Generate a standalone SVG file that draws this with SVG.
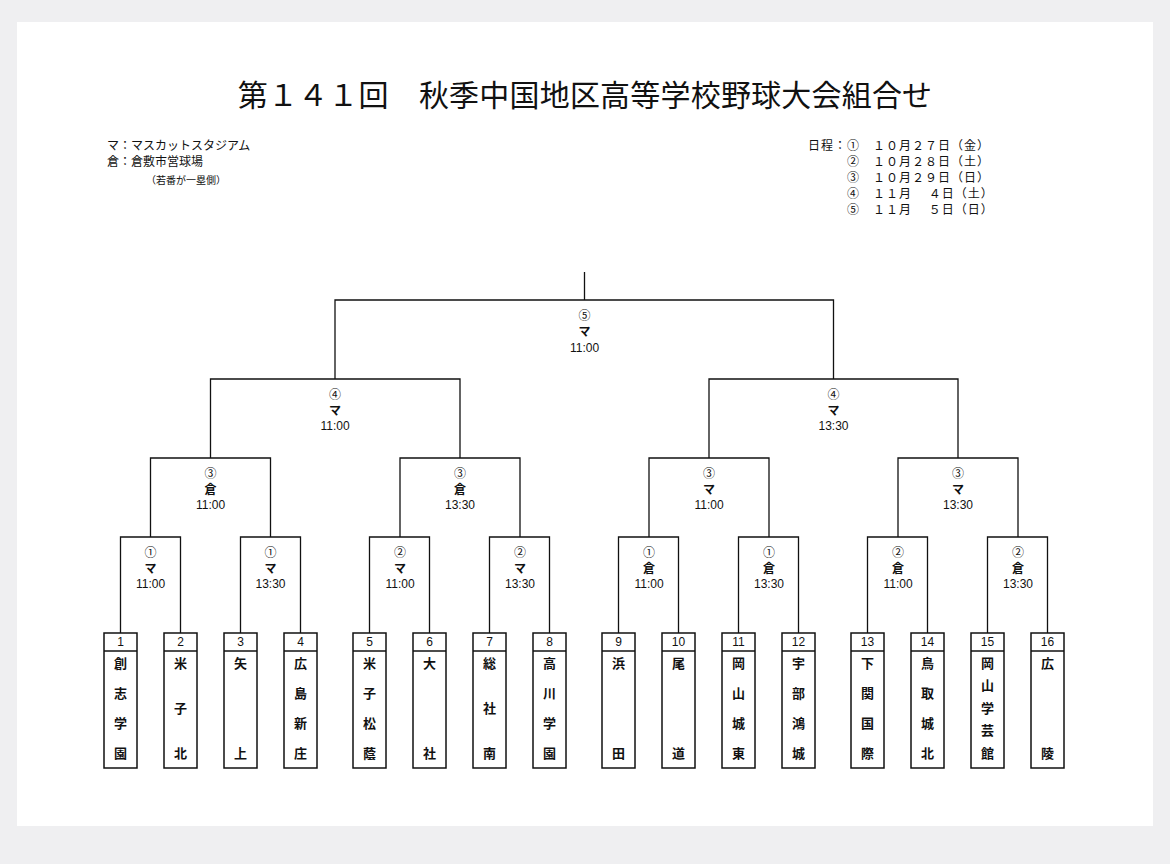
<svg xmlns="http://www.w3.org/2000/svg" width="1170" height="864" viewBox="0 0 1170 864">
<style>
.t{font-family:"Noto Sans CJK JP","Liberation Serif",serif;fill:#111}
.s{font-family:"Liberation Sans","Noto Sans CJK JP",sans-serif;fill:#111;font-size:12px;text-anchor:middle}
.n{font-family:"Noto Sans CJK JP",serif;fill:#111;font-size:13px;font-weight:bold;text-anchor:middle;dominant-baseline:central}
.ln{fill:none;stroke:#111;stroke-width:1.3}
.bx{fill:#fff;stroke:#111;stroke-width:1.5}
</style>
<rect width="1170" height="864" fill="#efeff1"/>
<rect x="17" y="22" width="1136" height="804" fill="#fff"/>
<text class="t" x="585" y="106" font-size="30" text-anchor="middle" letter-spacing="0.2">第１４１回　秋季中国地区高等学校野球大会組合せ</text>
<g class="t" font-size="12">
<text x="107" y="150">マ：マスカットスタジアム</text>
<text x="107" y="166">倉：倉敷市営球場</text>
<text x="146" y="184" font-size="10">（若番が一塁側）</text>
<text x="808" y="150" letter-spacing="1">日程：①　１０月２７日（金）</text>
<text x="847" y="166" letter-spacing="1">②　１０月２８日（土）</text>
<text x="847" y="182" letter-spacing="1">③　１０月２９日（日）</text>
<text x="847" y="198" letter-spacing="1">④　１１月　 ４日（土）</text>
<text x="847" y="214" letter-spacing="1">⑤　１１月　 ５日（日）</text>
</g>
<g id="connectors" class="ln">
<path d="M584.5 272V300M335 379V300H833.5V379"/>
<path d="M210.5 458V379H460V458M709 458V379H958V458"/>
<path d="M150.5 537V458H270.5V537M400 537V458H520V537M649 537V458H769V537M898 537V458H1018V537"/>
<path d="M120.5 633V537H180.5V633M240.5 633V537H300.5V633M369.5 633V537H429.5V633M489.5 633V537H549.5V633M618.5 633V537H678.5V633M738.5 633V537H798.5V633M867.5 633V537H927.5V633M987.5 633V537H1047.5V633"/>
</g>
<g id="labels">
<g><text class="s" x="584.5" y="320">⑤</text><text class="s" x="584.5" y="336" font-weight="bold">マ</text><text class="s" x="584.5" y="352">11:00</text></g>
<g><text class="s" x="335" y="399">④</text><text class="s" x="335" y="415" font-weight="bold">マ</text><text class="s" x="335" y="430">11:00</text></g>
<g><text class="s" x="833.5" y="399">④</text><text class="s" x="833.5" y="415" font-weight="bold">マ</text><text class="s" x="833.5" y="430">13:30</text></g>
<g><text class="s" x="210.5" y="478">③</text><text class="s" x="210.5" y="494" font-weight="bold">倉</text><text class="s" x="210.5" y="509">11:00</text></g>
<g><text class="s" x="460" y="478">③</text><text class="s" x="460" y="494" font-weight="bold">倉</text><text class="s" x="460" y="509">13:30</text></g>
<g><text class="s" x="709" y="478">③</text><text class="s" x="709" y="494" font-weight="bold">マ</text><text class="s" x="709" y="509">11:00</text></g>
<g><text class="s" x="958" y="478">③</text><text class="s" x="958" y="494" font-weight="bold">マ</text><text class="s" x="958" y="509">13:30</text></g>
<g><text class="s" x="150.5" y="557">①</text><text class="s" x="150.5" y="573" font-weight="bold">マ</text><text class="s" x="150.5" y="588">11:00</text></g>
<g><text class="s" x="270.5" y="557">①</text><text class="s" x="270.5" y="573" font-weight="bold">マ</text><text class="s" x="270.5" y="588">13:30</text></g>
<g><text class="s" x="400" y="557">②</text><text class="s" x="400" y="573" font-weight="bold">マ</text><text class="s" x="400" y="588">11:00</text></g>
<g><text class="s" x="520" y="557">②</text><text class="s" x="520" y="573" font-weight="bold">マ</text><text class="s" x="520" y="588">13:30</text></g>
<g><text class="s" x="649" y="557">①</text><text class="s" x="649" y="573" font-weight="bold">倉</text><text class="s" x="649" y="588">11:00</text></g>
<g><text class="s" x="769" y="557">①</text><text class="s" x="769" y="573" font-weight="bold">倉</text><text class="s" x="769" y="588">13:30</text></g>
<g><text class="s" x="898" y="557">②</text><text class="s" x="898" y="573" font-weight="bold">倉</text><text class="s" x="898" y="588">11:00</text></g>
<g><text class="s" x="1018" y="557">②</text><text class="s" x="1018" y="573" font-weight="bold">倉</text><text class="s" x="1018" y="588">13:30</text></g>
</g>
<defs>
<g id="box"><rect class="bx" x="-16.5" y="633" width="33" height="135"/><line class="ln" x1="-16.5" y1="651" x2="16.5" y2="651"/></g>
</defs>
<g id="t1" transform="translate(120.5 0)"><use href="#box"/><text class="s" y="646">1</text><text class="n" y="662">創</text><text class="n" y="692">志</text><text class="n" y="722">学</text><text class="n" y="752">園</text></g>
<g id="t2" transform="translate(180.5 0)"><use href="#box"/><text class="s" y="646">2</text><text class="n" y="662">米</text><text class="n" y="707">子</text><text class="n" y="752">北</text></g>
<g id="t3" transform="translate(240.5 0)"><use href="#box"/><text class="s" y="646">3</text><text class="n" y="662">矢</text><text class="n" y="752">上</text></g>
<g id="t4" transform="translate(300.5 0)"><use href="#box"/><text class="s" y="646">4</text><text class="n" y="662">広</text><text class="n" y="692">島</text><text class="n" y="722">新</text><text class="n" y="752">庄</text></g>
<g id="t5" transform="translate(369.5 0)"><use href="#box"/><text class="s" y="646">5</text><text class="n" y="662">米</text><text class="n" y="692">子</text><text class="n" y="722">松</text><text class="n" y="752">蔭</text></g>
<g id="t6" transform="translate(429.5 0)"><use href="#box"/><text class="s" y="646">6</text><text class="n" y="662">大</text><text class="n" y="752">社</text></g>
<g id="t7" transform="translate(489.5 0)"><use href="#box"/><text class="s" y="646">7</text><text class="n" y="662">総</text><text class="n" y="707">社</text><text class="n" y="752">南</text></g>
<g id="t8" transform="translate(549.5 0)"><use href="#box"/><text class="s" y="646">8</text><text class="n" y="662">高</text><text class="n" y="692">川</text><text class="n" y="722">学</text><text class="n" y="752">園</text></g>
<g id="t9" transform="translate(618.5 0)"><use href="#box"/><text class="s" y="646">9</text><text class="n" y="662">浜</text><text class="n" y="752">田</text></g>
<g id="t10" transform="translate(678.5 0)"><use href="#box"/><text class="s" y="646">10</text><text class="n" y="662">尾</text><text class="n" y="752">道</text></g>
<g id="t11" transform="translate(738.5 0)"><use href="#box"/><text class="s" y="646">11</text><text class="n" y="662">岡</text><text class="n" y="692">山</text><text class="n" y="722">城</text><text class="n" y="752">東</text></g>
<g id="t12" transform="translate(798.5 0)"><use href="#box"/><text class="s" y="646">12</text><text class="n" y="662">宇</text><text class="n" y="692">部</text><text class="n" y="722">鴻</text><text class="n" y="752">城</text></g>
<g id="t13" transform="translate(867.5 0)"><use href="#box"/><text class="s" y="646">13</text><text class="n" y="662">下</text><text class="n" y="692">関</text><text class="n" y="722">国</text><text class="n" y="752">際</text></g>
<g id="t14" transform="translate(927.5 0)"><use href="#box"/><text class="s" y="646">14</text><text class="n" y="662">鳥</text><text class="n" y="692">取</text><text class="n" y="722">城</text><text class="n" y="752">北</text></g>
<g id="t15" transform="translate(987.5 0)"><use href="#box"/><text class="s" y="646">15</text><text class="n" y="662">岡</text><text class="n" y="684">山</text><text class="n" y="707">学</text><text class="n" y="729">芸</text><text class="n" y="752">館</text></g>
<g id="t16" transform="translate(1047.5 0)"><use href="#box"/><text class="s" y="646">16</text><text class="n" y="662">広</text><text class="n" y="752">陵</text></g>
</svg>
